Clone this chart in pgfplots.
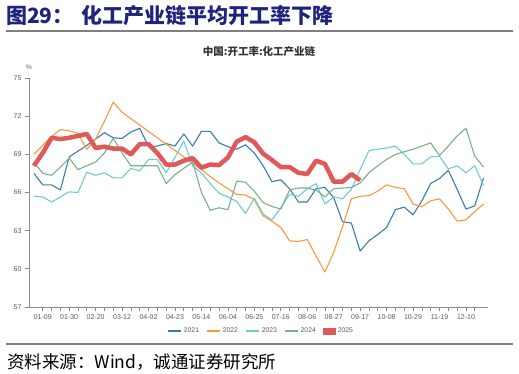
\documentclass[border=0pt]{standalone}
\usepackage{fontspec}
\usepackage{pgfplots}
\pgfplotsset{compat=1.18}
\setmainfont{Liberation Sans}
\newfontfamily\cjk{Noto Sans CJK SC}
\definecolor{titleblue}{RGB}{28,36,125}
\definecolor{rulegray}{RGB}{128,128,128}
\definecolor{axisgray}{RGB}{140,140,140}
\definecolor{labelgray}{RGB}{90,90,90}
\definecolor{c21}{RGB}{58,124,176}
\definecolor{c22}{RGB}{250,152,58}
\definecolor{c23}{RGB}{112,202,206}
\definecolor{c24}{RGB}{122,176,136}
\definecolor{c25}{RGB}{224,88,88}
\begin{document}
\begin{tikzpicture}[x=1pt,y=1pt]
\path[use as bounding box] (0,0) rectangle (519,374);
\node[anchor=west,inner sep=0pt,text=titleblue] at (6,358.5) {\cjk\bfseries\fontsize{21}{23}\selectfont 图29：\hspace{8pt}化工产业链平均开工率下降};
\draw[rulegray,line width=2pt] (6,343) -- (513,343);
\node[inner sep=0pt,text=black!80] at (259,322.3) {\cjk\bfseries\fontsize{10.5}{12}\selectfont 中国:开工率:化工产业链};
\node[inner sep=0pt,text=labelgray] at (29,307) {\fontsize{6.5}{7}\selectfont \%};
\draw[rulegray,line width=2pt] (6,30) -- (513,30);
\node[anchor=west,inner sep=0pt] at (7,12) {\cjk\fontsize{17.5}{19}\selectfont 资料来源：Wind，诚通证券研究所};
\begin{axis}[
  at={(29.5pt,67pt)}, anchor=south west,
  scale only axis, width=458.5pt, height=229pt,
  xmin=0.5, xmax=52.5, ymin=57, ymax=75,
  axis lines=left,
  axis line style={-, draw=axisgray, line width=0.8pt},
  ytick={57,60,...,75},
  xtick={2,5,...,50},
  xticklabels={01-09,01-30,02-20,03-12,04-02,04-23,05-14,06-04,06-25,07-16,08-06,08-27,09-17,10-08,10-29,11-19,12-10},
  minor x tick num=2,
  extra x ticks={51}, extra x tick labels={},
  tick align=outside,
  major tick length=4.5pt, minor tick length=4.5pt,
  tick style={draw=axisgray, line width=0.7pt},
  every tick label/.append style={font=\fontsize{7}{8}\selectfont, text=labelgray},
  /pgf/number format/assume math mode=true,
  legend columns=5,
  legend style={at={(0.505,-0.105)}, anchor=center, draw=none, fill=none,
    font=\fontsize{6.8}{8}\selectfont, text=labelgray,
    /tikz/every even column/.append style={column sep=5pt}},
  legend image code/.code={\draw[#1, line width=1.8pt] (0pt,0pt) -- (13pt,0pt);},
  every axis plot/.append style={line join=round, line width=1.1pt},
]
\addplot[c21] coordinates {
(1,67.5)(2,66.6)(3,66.6)(4,66.2)(5,68.8)(6,69.25)(7,69.7)(8,70.2)(9,70.7)(10,70.3)
(11,70.25)(12,70.75)(13,71.05)(14,69.6)(15,69.65)(16,69.85)(17,69.65)(18,70.6)(19,69.65)(20,70.8)
(21,70.8)(22,69.9)(23,69.6)(24,69.4)(25,69.75)(26,69.1)(27,68.1)(28,66.85)(29,67.0)(30,66.3)
(31,65.25)(32,65.25)(33,66.3)(34,66.4)(35,65.6)(36,63.7)(37,63.6)(38,61.4)(39,62.2)(40,62.7)
(41,63.25)(42,64.65)(43,64.85)(44,64.25)(45,65.35)(46,66.7)(47,67.1)(48,67.75)(49,66.25)(50,64.7)
(51,64.95)(52,67.15)};
\addlegendentry{2021}
\addplot[c22] coordinates {
(1,69.0)(2,69.7)(3,70.4)(4,70.95)(5,70.85)(6,70.65)(7,69.4)(8,70.2)(9,71.6)(10,73.1)
(11,72.3)(12,71.8)(13,71.3)(14,70.8)(15,70.3)(16,69.8)(17,69.3)(18,68.8)(19,68.3)(20,67.8)
(21,67.25)(22,66.75)(23,66.3)(24,65.85)(25,65.8)(26,65.45)(27,64.15)(28,63.75)(29,63.25)(30,62.2)
(31,62.15)(32,62.3)(33,61.0)(34,59.75)(35,61.3)(36,63.3)(37,65.5)(38,65.7)(39,65.75)(40,66.1)
(41,66.6)(42,66.4)(43,66.3)(44,65.1)(45,64.9)(46,65.35)(47,65.5)(48,64.7)(49,63.75)(50,63.85)
(51,64.5)(52,65.1)};
\addlegendentry{2022}
\addplot[c23] coordinates {
(1,65.7)(2,65.65)(3,65.25)(4,65.65)(5,66.05)(6,66.0)(7,67.6)(8,67.35)(9,67.55)(10,67.15)
(11,67.15)(12,67.9)(13,67.7)(14,68.6)(15,68.6)(16,67.55)(17,68.75)(18,70.05)(19,68.1)(20,67.55)
(21,66.7)(22,65.95)(23,65.65)(24,65.3)(25,64.35)(26,65.55)(27,64.3)(28,63.85)(29,64.8)(30,65.85)
(31,65.7)(32,66.3)(33,66.7)(34,65.1)(35,65.65)(36,65.5)(37,66.25)(38,67.8)(39,69.3)(40,69.4)
(41,69.5)(42,69.65)(43,69.0)(44,68.25)(45,68.25)(46,68.8)(47,68.85)(48,67.85)(49,68.1)(50,67.55)
(51,68.1)(52,66.55)};
\addlegendentry{2023}
\addplot[c24] coordinates {
(1,68.4)(2,67.5)(3,67.35)(4,68.0)(5,68.7)(6,67.8)(7,68.1)(8,68.4)(9,69.1)(10,70.25)
(11,69.1)(12,68.1)(13,68.1)(14,68.1)(15,68.1)(16,66.7)(17,67.4)(18,67.9)(19,68.4)(20,66.0)
(21,64.6)(22,64.8)(23,64.65)(24,66.9)(25,66.8)(26,66.1)(27,65.2)(28,64.9)(29,64.7)(30,66.2)
(31,66.35)(32,66.35)(33,66.2)(34,65.65)(35,66.3)(36,66.35)(37,66.4)(38,66.75)(39,67.55)(40,68.1)
(41,68.6)(42,69.0)(43,69.2)(44,69.4)(45,69.65)(46,69.9)(47,68.9)(48,69.65)(49,70.45)(50,71.05)
(51,68.85)(52,68.0)};
\addlegendentry{2024}
\addplot[c25, line width=4.5pt,
  legend image code/.code={\path[fill=c25, draw=none] (0pt,-3.5pt) rectangle (13pt,3.5pt);}] coordinates {
(1,68.1)(2,69.1)(3,70.3)(4,70.2)(5,70.3)(6,70.45)(7,70.6)(8,69.5)(9,69.6)(10,69.45)
(11,69.45)(12,69.0)(13,69.8)(14,69.8)(15,69.1)(16,68.2)(17,68.2)(18,68.5)(19,68.7)(20,67.95)
(21,68.2)(22,68.15)(23,68.75)(24,70.0)(25,70.35)(26,69.95)(27,69.05)(28,68.55)(29,68.0)(30,68.0)
(31,67.55)(32,67.45)(33,68.5)(34,68.25)(35,66.85)(36,66.85)(37,67.45)(38,66.95)};
\addlegendentry{2025}
\end{axis}
\end{tikzpicture}
\end{document}
